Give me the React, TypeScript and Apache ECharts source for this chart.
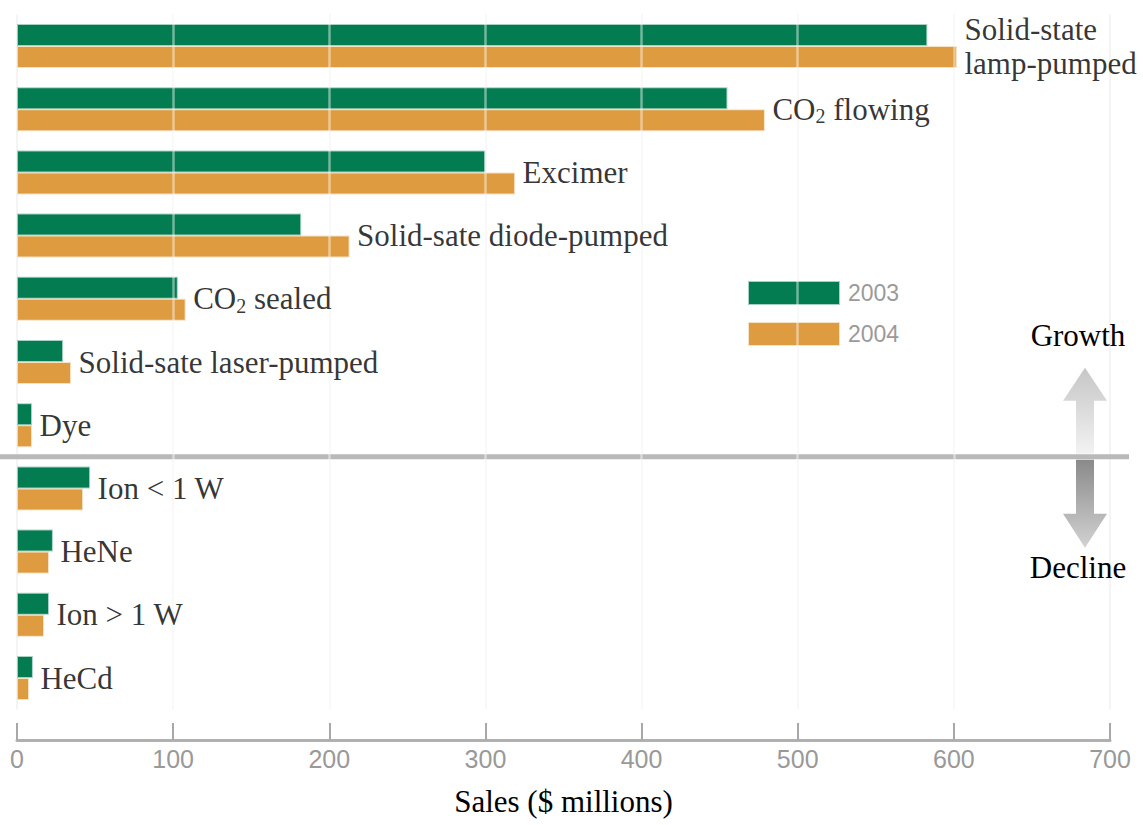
import { useEffect, useRef } from 'react';
import * as echarts from 'echarts';

// Laser sales by type, $ millions
const categories = [
  'Solid-state\nlamp-pumped',
  'CO₂ flowing',
  'Excimer',
  'Solid-sate diode-pumped',
  'CO₂ sealed',
  'Solid-sate laser-pumped',
  'Dye',
  'Ion < 1 W',
  'HeNe',
  'Ion > 1 W',
  'HeCd',
];
const sales2003 = [583, 455, 300, 182, 103, 29.5, 9.6, 46.8, 23, 20.5, 10.2];
const sales2004 = [602, 479, 319, 213, 108, 34.6, 9.6, 42.3, 20.5, 17.3, 7.7];
const seriesNames = ['2003', '2004'];
const xTicks = [0, 100, 200, 300, 400, 500, 600, 700];
const trendLabels = ['Growth', 'Decline'];
// the first seven types grew, the rest declined
const growthCount = 7;

const GREEN = '#037c51';
const ORANGE = '#de9b3f';
const SERIF = 'Liberation Serif';
const SANS = 'Liberation Sans';

export default function App() {
  const ref = useRef<HTMLDivElement>(null);

  useEffect(() => {
    const chart = echarts.init(ref.current!, null, { renderer: 'svg' });
    const labelEnds = categories.map((_, i) => Math.max(sales2003[i], sales2004[i]));

    chart.setOption({
      animation: false,
      backgroundColor: '#ffffff',
      grid: { left: 17, right: 33, top: 14.4, bottom: 115.4 },
      legend: {
        orient: 'vertical',
        left: 748,
        top: 281,
        padding: 0,
        itemWidth: 90,
        itemHeight: 22,
        itemGap: 17,
        icon: 'rect',
        data: seriesNames,
        textStyle: { color: '#9a9a9a', fontFamily: SANS, fontSize: 23, padding: [0, 0, 0, 4] },
      },
      xAxis: {
        type: 'value',
        min: xTicks[0],
        max: xTicks[xTicks.length - 1],
        interval: 100,
        position: 'bottom',
        offset: 30.4,
        name: 'Sales ($ millions)',
        nameLocation: 'middle',
        nameGap: 46,
        nameTextStyle: { fontFamily: SERIF, fontSize: 31, color: '#000' },
        axisLine: { show: true, lineStyle: { color: '#b0b0b0', width: 3 } },
        axisTick: { show: true, inside: true, length: 17, lineStyle: { color: '#a8a8a8', width: 2 } },
        axisLabel: { color: '#999999', fontFamily: SANS, fontSize: 25, margin: 6 },
        splitLine: { show: true, lineStyle: { color: '#f4f4f4', width: 2 } },
      },
      yAxis: {
        type: 'category',
        data: categories,
        inverse: true,
        show: false,
      },
      series: [
        {
          name: seriesNames[0],
          type: 'bar',
          data: sales2003,
          barWidth: 22,
          barGap: '0%',
          itemStyle: { color: GREEN, borderColor: 'rgba(3,124,81,0.35)', borderWidth: 2 },
        },
        {
          name: seriesNames[1],
          type: 'bar',
          data: sales2004,
          barWidth: 22,
          barGap: '0%',
          itemStyle: { color: ORANGE, borderColor: 'rgba(222,155,63,0.3)', borderWidth: 2 },
        },
        {
          type: 'scatter',
          data: labelEnds,
          symbolSize: 1,
          silent: true,
          z: 5,
          itemStyle: { color: 'transparent' },
          label: {
            show: true,
            position: 'right',
            distance: 7,
            formatter: (p: any) => categories[p.dataIndex].replace('₂', '{s|2}'),
            fontFamily: SERIF,
            fontSize: 31,
            lineHeight: 34,
            color: '#000',
            rich: {
              s: { fontFamily: SERIF, fontSize: 20, lineHeight: 16, verticalAlign: 'bottom', color: '#000' },
            },
          },
          markLine: {
            silent: true,
            symbol: 'none',
            label: { show: false },
            lineStyle: { color: 'rgba(255,255,255,0.45)', width: 2.5, type: 'solid' },
            data: xTicks.slice(1, 7).map((v) => ({ xAxis: v })),
          },
        },
      ],
    });

    // separator between growing and declining types, with trend arrow
    const yA = chart.convertToPixel({ yAxisIndex: 0 }, categories[growthCount - 1]) as number;
    const yB = chart.convertToPixel({ yAxisIndex: 0 }, categories[growthCount]) as number;
    const sepY = (yA + yB) / 2;
    const ax = 1085;
    const shaft = 9;
    const head = 22;

    chart.setOption({
      graphic: [
        {
          type: 'line',
          silent: true,
          shape: { x1: 0, y1: sepY, x2: 1129, y2: sepY },
          style: { stroke: '#b9b9b9', lineWidth: 5 },
        },
        {
          type: 'polygon',
          silent: true,
          shape: {
            points: [
              [ax - shaft, sepY - 3],
              [ax - shaft, sepY - 56],
              [ax - head, sepY - 56],
              [ax, sepY - 89],
              [ax + head, sepY - 56],
              [ax + shaft, sepY - 56],
              [ax + shaft, sepY - 3],
            ],
          },
          style: {
            fill: new echarts.graphic.LinearGradient(0, 0, 0, 1, [
              { offset: 0, color: '#c6c6c6' },
              { offset: 1, color: '#f2f2f2' },
            ]),
          },
        },
        {
          type: 'polygon',
          silent: true,
          shape: {
            points: [
              [ax - shaft, sepY + 3],
              [ax - shaft, sepY + 57],
              [ax - head, sepY + 57],
              [ax, sepY + 91],
              [ax + head, sepY + 57],
              [ax + shaft, sepY + 57],
              [ax + shaft, sepY + 3],
            ],
          },
          style: {
            fill: new echarts.graphic.LinearGradient(0, 0, 0, 1, [
              { offset: 0, color: '#8a8a8a' },
              { offset: 1, color: '#d2d2d2' },
            ]),
          },
        },
        {
          type: 'text',
          silent: true,
          style: {
            text: trendLabels[0],
            x: 1078,
            y: sepY - 121,
            align: 'center',
            verticalAlign: 'middle',
            fontFamily: SERIF,
            fontSize: 31,
            fill: '#000',
          },
        },
        {
          type: 'text',
          silent: true,
          style: {
            text: trendLabels[1],
            x: 1078,
            y: sepY + 111,
            align: 'center',
            verticalAlign: 'middle',
            fontFamily: SERIF,
            fontSize: 31,
            fill: '#000',
          },
        },
      ],
    });

    return () => chart.dispose();
  }, []);

  return (
    <div
      ref={ref}
      style={{ position: 'fixed', left: 0, top: 0, width: 1143, height: 825, background: '#fff' }}
    />
  );
}
